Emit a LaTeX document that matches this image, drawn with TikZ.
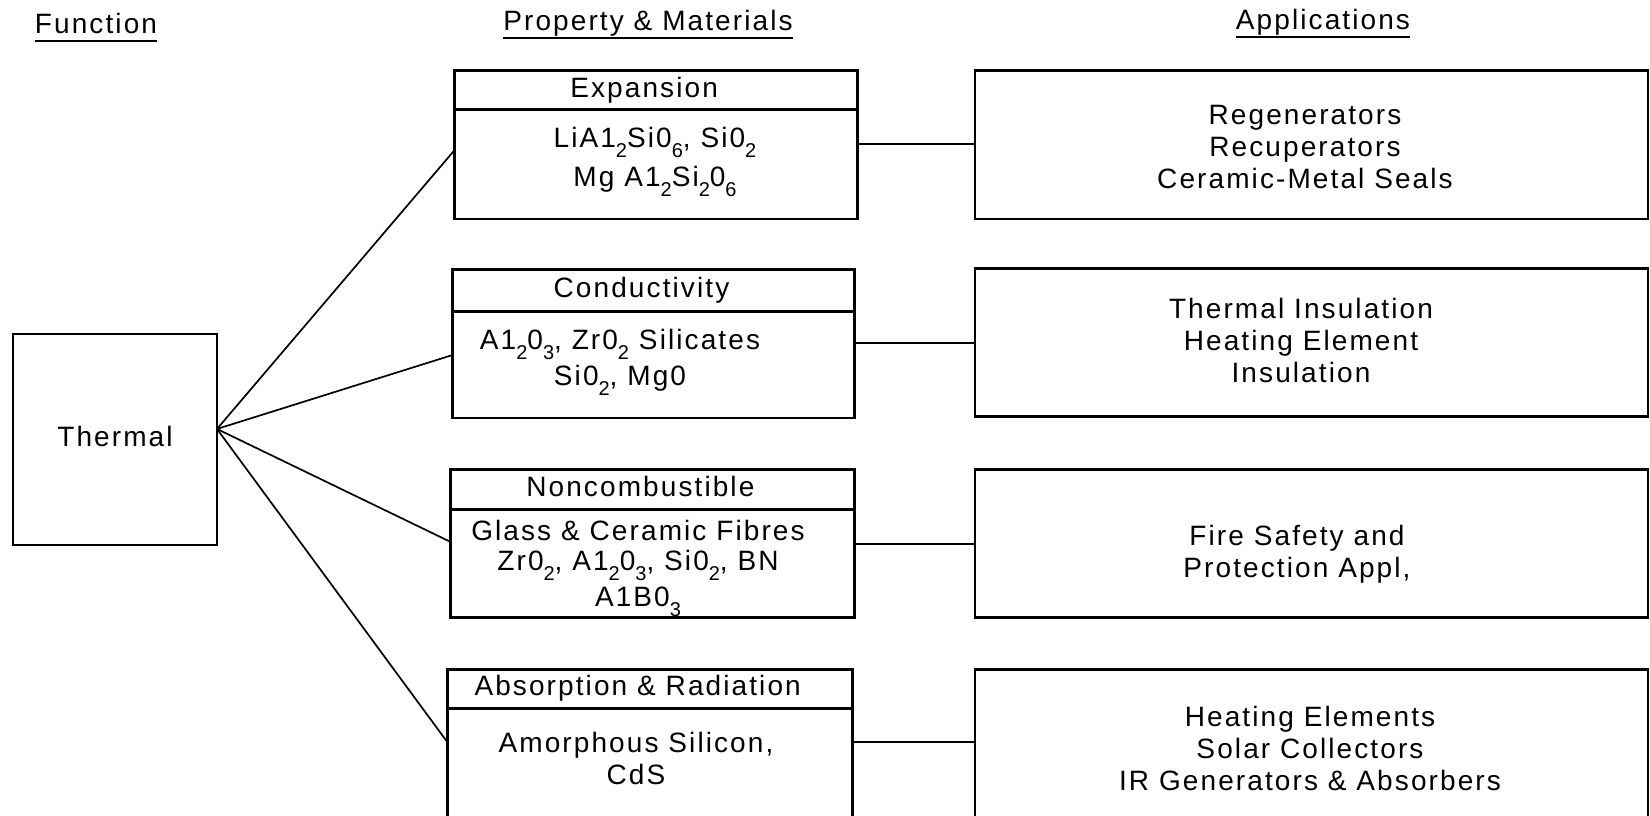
\documentclass[tikz,border=0pt]{standalone}
\usepackage{fontspec}
\setmainfont{Liberation Sans}[LetterSpace=7.5]
\usetikzlibrary{calc}
% lowered subscript digits as typed in chemical formulas
\newcommand\lw[1]{\raisebox{-10pt}{\fontsize{20}{20}\selectfont #1}}

\begin{document}
\begin{tikzpicture}[x=1pt,y=-1pt,
  every node/.style={font=\fontsize{28}{32}\selectfont},
  frame/.style={draw,line width=2.6pt,inner sep=0pt,outer sep=0pt,text height=20pt,text depth=6pt},
  hdrbox/.style={frame,anchor=north west,execute at end node={\hspace*{24pt}}},
  bodybox/.style={frame,anchor=north west},
  appbox/.style={frame,anchor=north west,minimum width=673pt},
  txt/.style={align=center,inner sep=0pt},
  colhead/.style={inner sep=0pt,text height=20pt,text depth=8pt},
  uline/.style={line width=2.4pt},
  link/.style={line width=1.7pt}]

\useasboundingbox (0,0) rectangle (1650,815);
\fill[white] (0,0) rectangle (1650,815);
\clip (0,0) rectangle (1650,815);

% column headings
\node[colhead] (hfun) at (96,27) {Function};
\node[colhead] (hprop) at (648,24) {Property \& Materials};
\node[colhead] (happ) at (1323,23) {Applications};
\draw[uline] (hfun.south west) -- (hfun.south east);
\draw[uline] (hprop.south west) -- (hprop.south east);
\draw[uline] (happ.south west) -- (happ.south east);

% function
\node[frame,minimum width=204pt,minimum height=211pt] (therm) at (115,439.5) {Thermal};

% property boxes: heading strip over a body
\node[hdrbox,minimum width=403pt,minimum height=39pt] (expH) at (454.6,70.5) {Expansion};
\node[bodybox,minimum width=403pt,minimum height=109.5pt] (expB) at (expH.south west) {};
\node[txt,font=\fontsize{28}{39}\selectfont] (expT) at (655,162)
  {LiA1\lw{2}Si0\lw{6}, Si0\lw{2}\\Mg A1\lw{2}Si\lw{2}0\lw{6}};

\node[hdrbox,minimum width=402pt,minimum height=42pt] (conH) at (452.5,269.4) {Conductivity};
\node[bodybox,minimum width=402pt,minimum height=106.4pt] (conB) at (conH.south west) {};
\node[txt,font=\fontsize{28}{36}\selectfont] (conT) at (620,362)
  {A1\lw{2}0\lw{3}, Zr0\lw{2} Silicates\\Si0\lw{2}, Mg0};

\node[hdrbox,minimum width=404pt,minimum height=40pt] (ncbH) at (450.4,469.3) {Noncombustible};
\node[bodybox,minimum width=404pt,minimum height=108.4pt] (ncbB) at (ncbH.south west) {};
\node[txt,font=\fontsize{28}{30}\selectfont] (ncbT) at (638,568)
  {Glass \& Ceramic Fibres\\Zr0\lw{2}, A1\lw{2}0\lw{3}, Si0\lw{2}, BN\\[6pt]A1B0\lw{3}};

\node[hdrbox,minimum width=405pt,minimum height=39pt] (absH) at (447.2,669.3) {Absorption \& Radiation};
\node[bodybox,minimum width=405pt,minimum height=160pt] (absB) at (absH.south west) {};
\node[txt] (absT) at (636,758) {Amorphous Silicon,\\CdS};

% application boxes
\node[appbox,minimum height=148.4pt] (appA) at (975,70.5) {};
\node[txt] (appAT) at (1305,147) {Regenerators\\Recuperators\\Ceramic-Metal Seals};
\node[appbox,minimum height=148.4pt] (appB) at (975,268.3) {};
\node[txt] (appBT) at (1301,340) {Thermal Insulation\\Heating Element\\Insulation};
\node[appbox,minimum height=148.4pt] (appC) at (975,469.3) {};
\node[txt] (appCT) at (1297,554) {Fire Safety and\\Protection Appl,};
\node[appbox,minimum height=160pt] (appD) at (975,669.3) {};
\node[txt] (appDT) at (1310,748) {Heating Elements\\Solar Collectors\\IR Generators \& Absorbers};

% fan of links from the function box
\coordinate (hub) at ($(therm.north east)!0.45!(therm.south east)$);
\draw[link] (hub) -- ($(expB.north west)!0.37!(expB.south west)$);
\draw[link] (hub) -- ($(conB.north west)!0.41!(conB.south west)$);
\draw[link] (hub) -- ($(ncbB.north west)!0.30!(ncbB.south west)$);
\draw[link] (hub) -- ($(absB.north west)!0.21!(absB.south west)$);

% links from properties to applications
\coordinate (e1) at ($(expB.north east)!0.315!(expB.south east)$);
\coordinate (e2) at ($(conB.north east)!0.30!(conB.south east)$);
\coordinate (e3) at ($(ncbB.north east)!0.32!(ncbB.south east)$);
\coordinate (e4) at ($(absB.north east)!0.21!(absB.south east)$);
\draw[link] (e1) -- (e1 -| appA.west);
\draw[link] (e2) -- (e2 -| appB.west);
\draw[link] (e3) -- (e3 -| appC.west);
\draw[link] (e4) -- (e4 -| appD.west);
\end{tikzpicture}
\end{document}
